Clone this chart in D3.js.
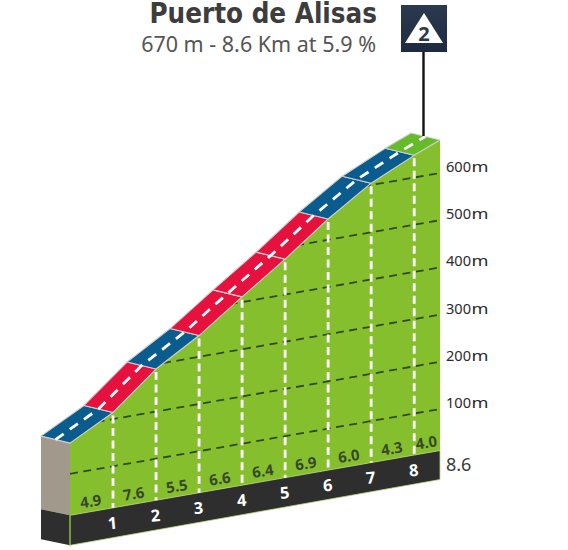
<!DOCTYPE html>
<html>
<head>
<meta charset="utf-8">
<script src="https://cdn.jsdelivr.net/npm/d3@7"></script>
<style>
  html, body { margin: 0; padding: 0; background: #fff; }
  svg { display: block; }
  text { font-family: "Noto Sans", "DejaVu Sans", sans-serif; }
  .climb-title { font-family: "DejaVu Sans Condensed", "DejaVu Sans", sans-serif; }
</style>
</head>
<body>
<svg id="profile" width="568" height="550"></svg>
<script>
// Climb summary
const climbName = "Puerto de Alisas";
const climbSummary = "670 m - 8.6 Km at 5.9 %";
const climbCategory = "2";

// Profile: distance (km) and altitude (m) at each marker
const distances = [0, 1, 2, 3, 4, 5, 6, 7, 8, 8.6];
const altitudes = [165, 214, 290, 345, 411, 475, 544, 604, 647, 670];

// One entry per segment
const gradients = [4.9, 7.6, 5.5, 6.6, 6.4, 6.9, 6.0, 4.3, 4.0];
const difficulty = ["mid", "hard", "mid", "hard", "hard", "hard", "mid", "mid", "easy"];

const kmMarkers = [1, 2, 3, 4, 5, 6, 7, 8];
const altitudeTicks = [100, 200, 300, 400, 500, 600];
const baseAltitude = 12;

const difficultyColor = d3.scaleOrdinal()
  .domain(["easy", "mid", "hard"])
  .range(["#66bb2a", "#0a5c8f", "#e6123d"]);

// Oblique projection: distance runs to the right and climbs along the shear
const xKm = d3.scaleLinear().domain([0, 8.6]).range([70, 440]);
const shearPx = d3.scaleLinear().domain([0, 8.6]).range([521, 456.2]);
const heightPx = d3.scaleLinear().domain([0, 100]).range([0, 47.2]);
const depth = { x: -29, y: -7 };
const bandHeight = 30;

const px = km => xKm(km);
const py = (km, alt) => shearPx(km) - heightPx(alt);
const front = i => [px(distances[i]), py(distances[i], altitudes[i])];
const back = i => { const p = front(i); return [p[0] + depth.x, p[1] + depth.y]; };
const altAt = d3.scaleLinear().domain(distances).range(altitudes);

const svg = d3.select("#profile");
const defs = svg.append("defs");
const poly = d3.line();

const green = "#86bf2e";
const dark = "#2e2e2e";
const first = 0;
const edgeGrey = "#cfcfcf";

// Green hill face
const faceCorners = [
  ...distances.map((d, i) => front(i)),
  [px(8.6), py(8.6, baseAltitude)],
  [px(0), py(0, baseAltitude)]
];
defs.append("clipPath").attr("id", "face")
  .append("path").attr("d", poly(faceCorners) + "Z");
svg.append("path").attr("d", poly(faceCorners) + "Z").attr("fill", green);

// Taupe side wall and dark side of the base band
svg.append("path").attr("fill", "#a2998d").attr("d", poly([
  back(first), front(first),
  [px(0), py(0, baseAltitude)],
  [px(0) + depth.x, py(0, baseAltitude) + depth.y + 1]
]) + "Z");
svg.append("path").attr("fill", dark).attr("d", poly([
  [px(0) + depth.x, py(0, baseAltitude) + depth.y + 1],
  [px(0), py(0, baseAltitude)],
  [px(0), py(0, baseAltitude) + bandHeight],
  [px(0) + depth.x, py(0, baseAltitude) + depth.y + bandHeight + 1]
]) + "Z");

// Base band along the front of the hill
svg.append("path").attr("fill", dark).attr("stroke", "#b9d77f").attr("stroke-width", 0.8)
  .attr("d", poly([
    [px(0), py(0, baseAltitude)],
    [px(8.6), py(8.6, baseAltitude)],
    [px(8.6), py(8.6, baseAltitude) + bandHeight - 1],
    [px(0), py(0, baseAltitude) + bandHeight]
  ]) + "Z");
svg.append("line").attr("stroke", green).attr("stroke-width", 1)
  .attr("x1", px(0)).attr("x2", px(0))
  .attr("y1", py(0, baseAltitude)).attr("y2", py(0, baseAltitude) + bandHeight);

// Sheared altitude lines, cut off by the hill outline
svg.append("g").attr("clip-path", "url(#face)")
  .selectAll("line").data(altitudeTicks).join("line")
  .attr("x1", px(0)).attr("x2", px(8.6))
  .attr("y1", d => py(0, d)).attr("y2", d => py(8.6, d))
  .attr("stroke", "#2f4a1c").attr("stroke-width", 1.8)
  .attr("stroke-dasharray", "8 5.5");

// Kilometre markers
svg.append("g").selectAll("line").data(kmMarkers).join("line")
  .attr("x1", px).attr("x2", px)
  .attr("y1", d => py(d, altAt(d)) + 3)
  .attr("y2", d => py(d, baseAltitude))
  .attr("stroke", "#fff").attr("stroke-width", 2.8)
  .attr("stroke-dasharray", "8 4.5");

// Road surface, one coloured quad per segment
svg.append("g").selectAll("path").data(gradients).join("path")
  .attr("d", (d, i) => poly([back(i), back(i + 1), front(i + 1), front(i)]) + "Z")
  .attr("fill", (d, i) => difficultyColor(difficulty[i]))
  .attr("stroke", edgeGrey).attr("stroke-width", 1.1)
  .attr("stroke-linejoin", "round");

// Dashed centre line of the road
const centre = distances.map((d, i) => {
  const f = front(i), b = back(i);
  return [(f[0] + b[0]) / 2, (f[1] + b[1]) / 2];
});
svg.append("path").attr("d", poly(centre)).attr("fill", "none")
  .attr("stroke", "#fff").attr("stroke-width", 2.8)
  .attr("stroke-dasharray", "10 7.5");

// Gradient of each segment, laid along the slope
const slopeDeg = -9;
svg.append("g").selectAll("text").data(gradients).join("text")
  .attr("transform", (d, i) => {
    const m = (distances[i] + distances[i + 1]) / 2;
    return `translate(${px(m)},${py(m, baseAltitude) - 5}) rotate(${slopeDeg})`;
  })
  .attr("text-anchor", "middle")
  .attr("font-size", 15).attr("font-weight", 700)
  .attr("fill", "#37482a")
  .text(d => d.toFixed(1));

// Kilometre numbers on the band
svg.append("g").selectAll("text").data(kmMarkers).join("text")
  .attr("transform", d => `translate(${px(d)},${py(d, baseAltitude) + 21}) rotate(-5)`)
  .attr("text-anchor", "middle")
  .attr("font-size", 16.5).attr("font-weight", 700)
  .attr("fill", "#fff")
  .text(d => d);

// Altitude labels beside the right edge; the unit is set wide and tight against the digits
const labelX = px(8.6) + 6;
svg.append("g").selectAll("text").data(altitudeTicks).join("text")
  .attr("x", labelX)
  .attr("y", d => py(8.6, d) - 1)
  .attr("font-size", 14.6)
  .attr("fill", "#2b2b2b")
  .text(d => d);
svg.append("g").selectAll("text").data(altitudeTicks).join("text")
  .attr("x", labelX + 25.5)
  .attr("y", d => py(8.6, d) - 1)
  .attr("font-size", 14.6)
  .attr("fill", "#2b2b2b")
  .attr("textLength", 17)
  .attr("lengthAdjust", "spacingAndGlyphs")
  .text("m");

// Total distance label
svg.append("text")
  .attr("x", labelX).attr("y", py(8.6, baseAltitude) + 20)
  .attr("font-size", 18).attr("fill", "#3a3a3a")
  .text("8.6");

// Title block
svg.append("text").attr("class", "climb-title")
  .attr("x", 377).attr("y", 23)
  .attr("text-anchor", "end")
  .attr("font-size", 27.5).attr("font-weight", 700).attr("fill", "#3d3d3d")
  .text(climbName);
svg.append("text").attr("x", 376).attr("y", 52)
  .attr("text-anchor", "end")
  .attr("font-size", 21.5).attr("fill", "#555")
  .text(climbSummary);

// Category flag on the summit
const pole = px(8.6) - 16.5;
svg.append("line")
  .attr("x1", pole).attr("x2", pole)
  .attr("y1", 50).attr("y2", 136)
  .attr("stroke", "#111").attr("stroke-width", 2.4);

const grad = defs.append("linearGradient").attr("id", "flag")
  .attr("x1", 0).attr("y1", 0).attr("x2", 0).attr("y2", 1);
grad.append("stop").attr("offset", 0).attr("stop-color", "#2b3a50");
grad.append("stop").attr("offset", 1).attr("stop-color", "#1e2a40");

svg.append("rect")
  .attr("x", 401).attr("y", 5).attr("width", 46).attr("height", 47)
  .attr("fill", "url(#flag)");
svg.append("path")
  .attr("d", poly([[424, 13], [443, 43], [405, 43]]) + "Z")
  .attr("fill", "#fff");
svg.append("text")
  .attr("x", 424).attr("y", 41)
  .attr("text-anchor", "middle")
  .attr("font-size", 20).attr("font-weight", 700)
  .attr("fill", "#2a3850")
  .text(climbCategory);
</script>
</body>
</html>
